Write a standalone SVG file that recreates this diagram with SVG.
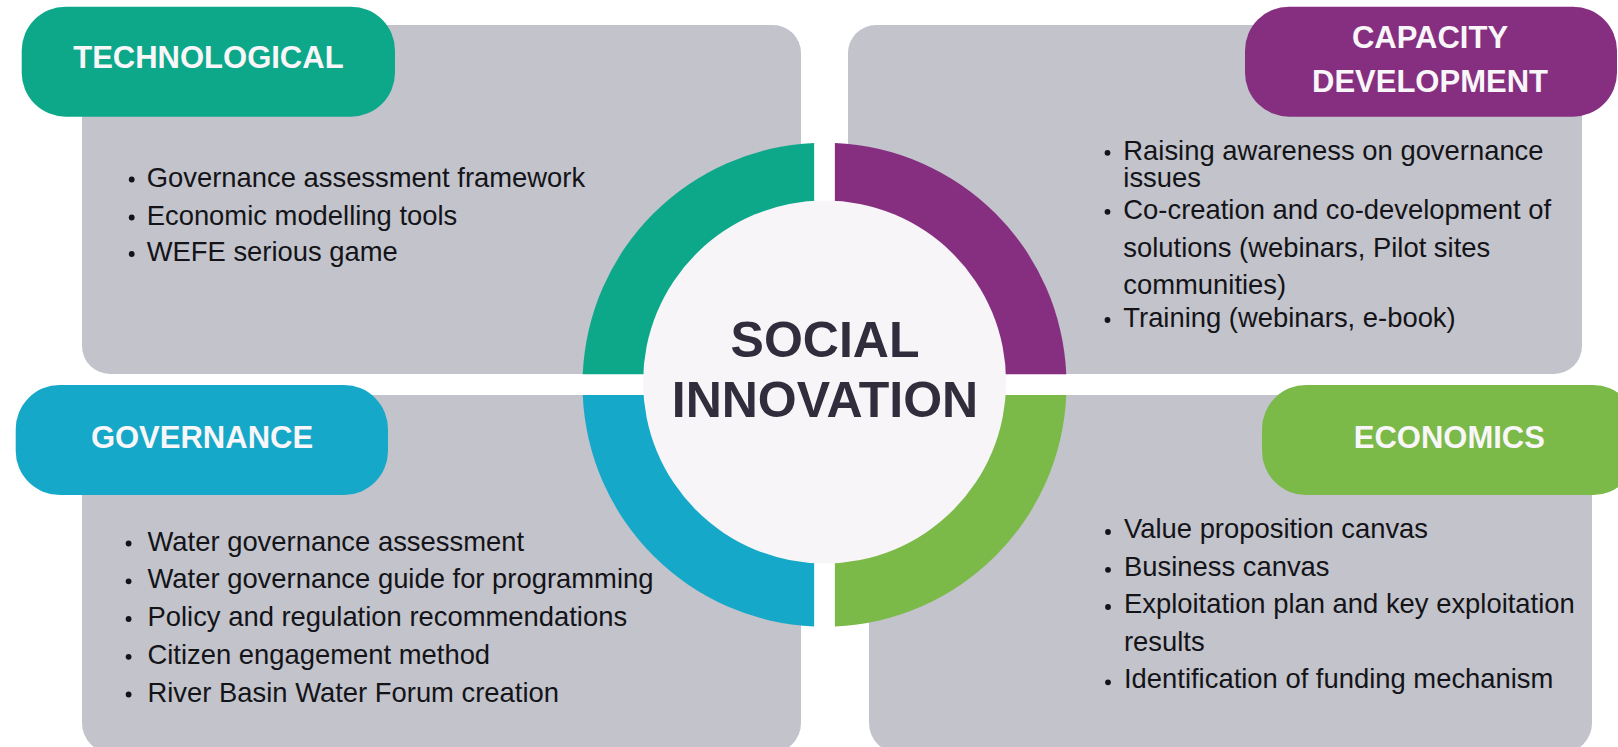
<svg xmlns="http://www.w3.org/2000/svg" width="1618" height="747" viewBox="0 0 1618 747">
  <style>
    .panel { fill: #c2c3cb; }
    .pill-t { font-family: "Liberation Sans", Arial, sans-serif; font-weight: bold; font-size: 31px; fill: #f8f6f8; text-anchor: middle; }
    .item { font-family: "Liberation Sans", Arial, sans-serif; font-size: 27.4px; fill: #141418; }
    .bul { fill: #141418; }
    .center-t { font-family: "Liberation Sans", Arial, sans-serif; font-weight: bold; font-size: 50px; fill: #322d3d; text-anchor: middle; }
  </style>
  <rect x="0" y="0" width="1618" height="747" fill="#ffffff"/>

  <g id="technological">
    <rect class="panel" x="82" y="25" width="719" height="349" rx="28" ry="28"/>
    <rect x="21.7" y="6.7" width="373.3" height="110" rx="44" ry="44" fill="#0da88a"/>
    <text class="pill-t" x="208.4" y="68.3">TECHNOLOGICAL</text>
    <circle class="bul" cx="131.7" cy="179.5" r="2.9"/>
    <text class="item" x="146.7" y="186.5">Governance assessment framework</text>
    <circle class="bul" cx="131.7" cy="217.5" r="2.9"/>
    <text class="item" x="146.7" y="224.5">Economic modelling tools</text>
    <circle class="bul" cx="131.7" cy="254" r="2.9"/>
    <text class="item" x="146.7" y="261">WEFE serious game</text>
  </g>

  <g id="capacity-development">
    <rect class="panel" x="848" y="25" width="734" height="349" rx="28" ry="28"/>
    <rect x="1245" y="6.7" width="372" height="110" rx="44" ry="44" fill="#862f80"/>
    <text class="pill-t" x="1430" y="48.3">CAPACITY</text>
    <text class="pill-t" x="1430" y="91.7">DEVELOPMENT</text>
    <circle class="bul" cx="1107.5" cy="152.8" r="2.9"/>
    <text class="item" x="1123.3" y="159.8">Raising awareness on governance</text>
    <text class="item" x="1123.3" y="186.8">issues</text>
    <circle class="bul" cx="1107.5" cy="211.8" r="2.9"/>
    <text class="item" x="1123.3" y="218.8">Co-creation and co-development of</text>
    <text class="item" x="1123.3" y="256.5">solutions (webinars, Pilot sites</text>
    <text class="item" x="1123.3" y="294">communities)</text>
    <circle class="bul" cx="1107.5" cy="320" r="2.9"/>
    <text class="item" x="1123.3" y="327">Training (webinars, e-book)</text>
  </g>

  <g id="governance">
    <rect class="panel" x="82" y="395" width="719" height="358" rx="30" ry="30"/>
    <rect x="15.7" y="385" width="372.3" height="110" rx="44" ry="44" fill="#16a8c8"/>
    <text class="pill-t" x="202" y="447.7">GOVERNANCE</text>
    <circle class="bul" cx="128.6" cy="543.5" r="2.9"/>
    <text class="item" x="147.5" y="550.5">Water governance assessment</text>
    <circle class="bul" cx="128.6" cy="581.3" r="2.9"/>
    <text class="item" x="147.5" y="588.3">Water governance guide for programming</text>
    <circle class="bul" cx="128.6" cy="619" r="2.9"/>
    <text class="item" x="147.5" y="626">Policy and regulation recommendations</text>
    <circle class="bul" cx="128.6" cy="656.8" r="2.9"/>
    <text class="item" x="147.5" y="663.8">Citizen engagement method</text>
    <circle class="bul" cx="128.6" cy="694.5" r="2.9"/>
    <text class="item" x="147.5" y="701.5">River Basin Water Forum creation</text>
  </g>

  <g id="economics">
    <rect class="panel" x="869" y="395" width="723" height="358" rx="30" ry="30"/>
    <rect x="1262" y="385" width="375" height="110" rx="44" ry="44" fill="#7bb948"/>
    <text class="pill-t" x="1449.3" y="447.7">ECONOMICS</text>
    <circle class="bul" cx="1108" cy="532" r="2.9"/>
    <text class="item" x="1124" y="538">Value proposition canvas</text>
    <circle class="bul" cx="1108" cy="569.8" r="2.9"/>
    <text class="item" x="1124" y="575.8">Business canvas</text>
    <circle class="bul" cx="1108" cy="607" r="2.9"/>
    <text class="item" x="1124" y="613">Exploitation plan and key exploitation</text>
    <text class="item" x="1124" y="651">results</text>
    <circle class="bul" cx="1108" cy="682.3" r="2.9"/>
    <text class="item" x="1124" y="688.3">Identification of funding mechanism</text>
  </g>

  <g id="social-innovation">
    <path d="M 814.15 374.35 L 814.15 142.92 A 242 242 0 0 0 582.72 374.35 Z" fill="#0da88a"/>
    <path d="M 834.85 374.35 L 1066.28 374.35 A 242 242 0 0 0 834.85 142.92 Z" fill="#862f80"/>
    <path d="M 814.15 395.05 L 582.72 395.05 A 242 242 0 0 0 814.15 626.48 Z" fill="#16a8c8"/>
    <path d="M 834.85 395.05 L 834.85 626.48 A 242 242 0 0 0 1066.28 395.05 Z" fill="#7bb948"/>
    <circle cx="824.6" cy="382" r="181.5" fill="#f7f5f7"/>
    <text class="center-t" x="825" y="356.7">SOCIAL</text>
    <text class="center-t" x="825" y="416.7">INNOVATION</text>
  </g>

  <g id="connectors"/>
</svg>
